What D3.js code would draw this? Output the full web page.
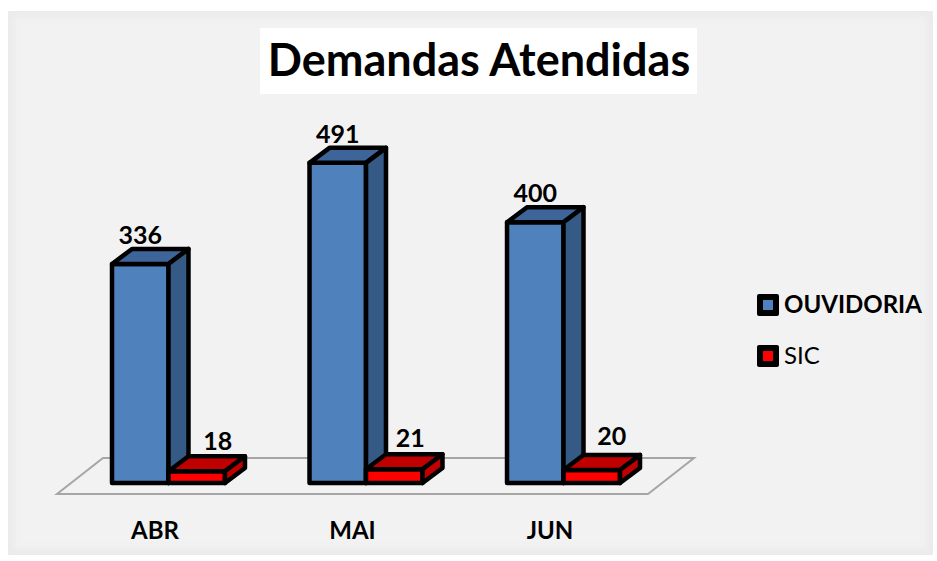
<!DOCTYPE html>
<html>
<head>
<meta charset="utf-8">
<script src="https://cdn.jsdelivr.net/npm/d3@7"></script>
<style>
  body { margin: 0; background: #fff; }
  text { font-family: Lato, "Open Sans", sans-serif; fill: #000; }
</style>
</head>
<body>
<div id="chart"></div>
<script>
const meses = ["ABR", "MAI", "JUN"];
const series = ["OUVIDORIA", "SIC"];
const ouvidoria = [336, 491, 400];
const sic = [18, 21, 20];
const titulo = "Demandas Atendidas";

const width = 937, height = 561;
const depthX = 20, depthY = 15;

const svg = d3.select("#chart")
    .append("svg")
    .attr("width", width)
    .attr("height", height)
    .style("display", "block");

// soft edges, the original is an upscaled screenshot
const defs = svg.append("defs");
defs.append("filter").attr("id", "soft")
    .append("feGaussianBlur").attr("stdDeviation", 0.6);
defs.append("filter").attr("id", "edge")
    .append("feGaussianBlur").attr("stdDeviation", 3);

// Panel
svg.append("rect")
    .attr("x", 8).attr("y", 11)
    .attr("width", 925).attr("height", 544)
    .attr("fill", "#ebebeb");
svg.append("rect")
    .attr("x", 14).attr("y", 17)
    .attr("width", 913).attr("height", 532)
    .attr("fill", "#f2f2f2")
    .attr("filter", "url(#edge)");

// Scales
const xScale = d3.scaleBand()
    .domain(meses)
    .range([112, 620])
    .paddingInner(0.428)
    .paddingOuter(0);

const xInner = d3.scaleBand()
    .domain(series)
    .range([0, xScale.bandwidth()]);

const yScale = d3.scaleLinear()
    .domain([0, 500])
    .range([483, 157]);

const fills = {
    OUVIDORIA: { front: "#4f81bd", top: "#3c659a", side: "#355a85" },
    SIC: { front: "#ff0000", top: "#c00000", side: "#c00000" }
};

const rows = series.flatMap((s, i) => meses.map((m, j) => ({
    serie: s,
    mes: m,
    valor: (i === 0 ? ouvidoria : sic)[j]
})));

// Floor
const y0 = yScale(0);
const floorLeft = xScale(meses[0]) - 55;
const floorRight = xScale(meses[2]) + xScale.bandwidth() + 28;
svg.append("path")
    .attr("d", d3.line()([
        [floorLeft, y0 + 11],
        [floorRight, y0 + 11],
        [floorRight + 46, y0 - 25],
        [floorLeft + 46, y0 - 25]
    ]) + "Z")
    .attr("fill", "none")
    .attr("stroke", "#a6a6a6")
    .attr("stroke-width", 2)
    .attr("filter", "url(#soft)");

// Bars, blue ones first so the red ones sit against their side
const bars = svg.append("g")
    .attr("filter", "url(#soft)")
    .selectAll("g")
    .data(rows)
    .enter()
    .append("g")
    .attr("stroke", "#000")
    .attr("stroke-width", 4.5)
    .attr("stroke-linejoin", "round");

const x1 = d => xScale(d.mes) + xInner(d.serie);
const x2 = d => x1(d) + xInner.bandwidth();
const yTop = d => yScale(d.valor);

bars.append("rect")
    .attr("x", x1)
    .attr("y", yTop)
    .attr("width", xInner.bandwidth())
    .attr("height", d => y0 - yTop(d))
    .attr("fill", d => fills[d.serie].front);

bars.append("path")
    .attr("d", d => d3.line()([
        [x1(d), yTop(d)],
        [x1(d) + depthX, yTop(d) - depthY],
        [x2(d) + depthX, yTop(d) - depthY],
        [x2(d), yTop(d)]
    ]) + "Z")
    .attr("fill", d => fills[d.serie].top);

bars.append("path")
    .attr("d", d => d3.line()([
        [x2(d), yTop(d)],
        [x2(d) + depthX, yTop(d) - depthY],
        [x2(d) + depthX, y0 - depthY],
        [x2(d), y0]
    ]) + "Z")
    .attr("fill", d => fills[d.serie].side);

// Value labels, the small red ones were placed by hand in the original
const nudgeSic = { ABR: [21, -6], MAI: [16, -7], JUN: [20, -10] };
const nudge = d => d.serie === "SIC" ? nudgeSic[d.mes] : [0, -5];

svg.selectAll(".valor")
    .data(rows)
    .enter()
    .append("text")
    .attr("class", "valor")
    .attr("x", d => x1(d) + xInner.bandwidth() / 2 + nudge(d)[0])
    .attr("y", d => yTop(d) - depthY + nudge(d)[1])
    .attr("text-anchor", "middle")
    .attr("font-size", 25)
    .attr("font-weight", 700)
    .text(d => d.valor);

// Category labels
const axis = svg.append("g")
    .attr("transform", "translate(-13.5,539)")
    .call(d3.axisBottom(xScale).tickSize(0).tickPadding(0));
axis.select(".domain").remove();
axis.selectAll("text")
    .attr("y", 0)
    .attr("dy", 0)
    .attr("font-size", 24)
    .attr("font-weight", 700)
    .attr("font-family", "Lato, sans-serif");

// Title
svg.append("rect")
    .attr("x", 260).attr("y", 28)
    .attr("width", 437).attr("height", 66)
    .attr("fill", "#fff");
svg.append("text")
    .attr("x", 479).attr("y", 76)
    .attr("text-anchor", "middle")
    .attr("font-size", 45)
    .attr("font-weight", 700)
    .text(titulo);

// Legend
const legend = svg.append("g")
    .selectAll("g")
    .data(series)
    .enter()
    .append("g")
    .attr("transform", (d, i) => `translate(757,${294 + i * 51})`);

legend.append("rect")
    .attr("width", 22).attr("height", 22).attr("rx", 2)
    .attr("fill", "#000");
legend.append("rect")
    .attr("x", 6).attr("y", 6)
    .attr("width", 10).attr("height", 10)
    .attr("fill", d => fills[d].front);
legend.append("text")
    .attr("x", 27).attr("y", 19)
    .attr("font-size", 24)
    .attr("font-weight", d => d === "OUVIDORIA" ? 700 : 400)
    .text(d => d);
</script>
</body>
</html>
